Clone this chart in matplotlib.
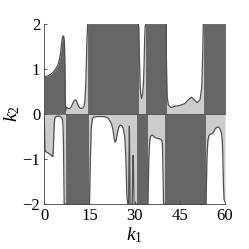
import matplotlib
matplotlib.use('Agg')
import matplotlib.pyplot as plt

plt.rcParams['font.family'] = 'Liberation Serif'
plt.rcParams['mathtext.fontset'] = 'custom'
plt.rcParams['mathtext.rm'] = 'Liberation Serif'
plt.rcParams['mathtext.it'] = 'Liberation Serif:italic'

DARK = '#666666'
LIGHT = '#cccccc'
LINE = '#505050'

# upper half (k2 > 0): curve segments
upA_k1 = [0, 0.5, 1.0, 1.5, 2.0, 2.5, 3.0, 3.5, 4.0, 4.5, 5.0, 5.4, 5.8, 6.1, 6.3, 6.5, 6.7, 6.85, 7.0, 7.1]
upA_k2 = [0.83, 0.83, 0.84, 0.85, 0.87, 0.90, 0.93, 0.97, 1.02, 1.08, 1.20, 1.34, 1.60, 1.71, 1.73, 1.70, 1.55, 1.0, 0.3, 0.08]

upB_k1 = [7.1, 7.3, 7.6, 8.0, 8.5, 9.0, 9.5, 10.0, 10.4, 10.8, 11.3, 11.8, 12.3, 12.8, 13.2, 13.5, 13.8, 14.1, 14.4]
upB_k2 = [0.08, 0.15, 0.13, 0.12, 0.12, 0.16, 0.24, 0.30, 0.31, 0.27, 0.18, 0.13, 0.12, 0.13, 0.17, 0.3, 0.7, 1.5, 2.0]

upD_k1 = [31.2, 31.4, 31.6, 31.8, 32.0, 32.3, 32.6, 32.9, 33.1, 33.3, 33.5, 33.8]
upD_k2 = [2.0, 1.9, 1.2, 0.7, 0.45, 0.34, 0.42, 0.65, 1.0, 1.6, 1.95, 2.0]

upF_k1 = [40.4, 40.6, 40.8, 41.2, 42.0, 43.4, 44.5, 45.6, 46.7, 47.8, 48.9, 49.8, 50.8, 51.7, 52.3, 52.6, 52.8, 53.0]
upF_k2 = [2.0, 1.0, 0.38, 0.20, 0.14, 0.17, 0.18, 0.20, 0.23, 0.31, 0.37, 0.31, 0.25, 0.31, 0.6, 1.34, 2.0, 2.0]

# lower half (k2 < 0): curve segments
loA_k1 = [0, 0.1, 0.25, 0.5, 1.0, 1.5, 2.0, 2.5, 2.8, 3.0, 3.2, 3.4, 3.6, 3.9, 4.3, 4.8, 5.3, 5.7, 6.0, 6.2, 6.35, 6.5, 6.6, 7.1]
loA_k2 = [-0.05, -0.4, -0.8, -0.84, -0.86, -0.88, -0.9, -0.93, -0.95, -0.8, -0.4, -0.15, -0.08, -0.06, -0.05, -0.05, -0.06, -0.08, -0.12, -0.25, -0.6, -1.4, -2.0, -2.0]

loC_k1 = [14.5, 15.0, 15.3, 15.6, 16.0, 16.5, 17.5, 18.5, 19.5, 20.5, 21.2, 21.8, 22.3, 22.8, 23.2, 23.5, 23.8, 24.2, 24.7, 25.2,
          25.7, 26.2, 26.7, 27.1, 27.4, 27.7, 27.9, 28.0, 28.15, 28.25, 28.35, 28.5, 29.2, 29.35, 29.5, 29.65, 29.8, 30.7]
loC_k2 = [-2.0, -2.0, -1.0, -0.3, -0.1, -0.07, -0.06, -0.06, -0.06, -0.07, -0.1, -0.16, -0.22, -0.35, -0.55, -0.63, -0.6, -0.45, -0.3, -0.25,
          -0.26, -0.32, -0.5, -1.0, -1.8, -2.0, -2.0, -2.0, -0.8, -0.27, -0.8, -2.0, -2.0, -1.3, -0.92, -1.3, -2.0, -2.0]

loE_k1 = [34.0, 34.4, 34.7, 35.0, 35.3, 35.7, 36.1, 36.6, 37.2, 37.8, 38.4, 38.9, 39.2, 39.4, 39.6, 40.1]
loE_k2 = [-2.0, -2.0, -1.0, -0.6, -0.5, -0.47, -0.48, -0.52, -0.54, -0.55, -0.56, -0.58, -0.65, -1.2, -2.0, -2.0]

loG_k1 = [53.3, 53.7, 54.0, 54.3, 54.7, 55.2, 55.7, 56.2, 56.8, 57.3, 57.8, 58.3, 58.8, 59.1, 59.3, 59.5, 59.7, 60.0]
loG_k2 = [-2.0, -2.0, -1.0, -0.6, -0.48, -0.45, -0.44, -0.4, -0.33, -0.3, -0.29, -0.33, -0.42, -0.6, -1.0, -1.6, -1.9, -1.95]

# fully shaded bands (k1 start, k1 end)
up_dark_bands = [(14.4, 31.2), (33.8, 40.4), (53.0, 60.0)]
lo_dark_bands = [(7.1, 14.5), (30.7, 34.0), (40.1, 53.3)]

fig = plt.figure(figsize=(2.49, 2.49), dpi=100)
ax = fig.add_axes([44.3 / 249, 1 - 204 / 249, 180.7 / 249, 180.3 / 249])

segments = [
    (upA_k1, upA_k2, DARK),
    (upB_k1, upB_k2, LIGHT),
    (upD_k1, upD_k2, LIGHT),
    (upF_k1, upF_k2, LIGHT),
    (loA_k1, loA_k2, LIGHT),
    (loC_k1, loC_k2, LIGHT),
    (loE_k1, loE_k2, LIGHT),
    (loG_k1, loG_k2, LIGHT),
]
for k1, k2, c in segments:
    ax.fill_between(k1, 0, k2, color=c, lw=0)

for a, b in up_dark_bands:
    ax.fill_between([a, b], 0, 2, facecolor=DARK, edgecolor=LINE, lw=0.5)
for a, b in lo_dark_bands:
    ax.fill_between([a, b], -2, 0, facecolor=DARK, edgecolor=LINE, lw=0.5)

for k1, k2, c in segments:
    ax.plot(k1, k2, color=LINE, lw=0.9)

ax.axhline(0, color=LINE, lw=0.5)

ax.set_xlim(0, 60)
ax.set_ylim(-2, 2)
ax.set_xticks([0, 15, 30, 45, 60])
ax.set_yticks([-2, -1, 0, 1, 2])
ax.spines['top'].set_visible(False)
ax.spines['right'].set_visible(False)
for s in ['left', 'bottom']:
    ax.spines[s].set_color('#404040')
    ax.spines[s].set_linewidth(0.6)
ax.tick_params(direction='in', length=2.5, width=0.6, color='#404040', labelsize=12, pad=3)
ax.set_xlabel('$k_1$', fontsize=14, labelpad=1)
ax.set_ylabel('$k_2$', fontsize=14, labelpad=0)

fig.savefig('out.png', dpi=100)
